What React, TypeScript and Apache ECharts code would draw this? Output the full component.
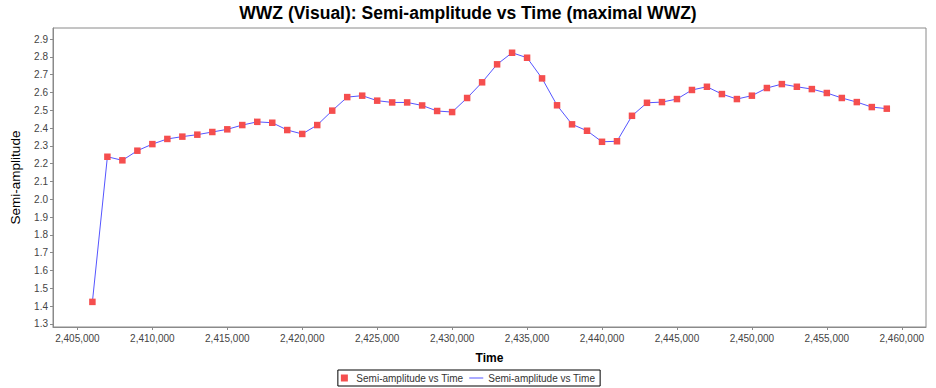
import React, { useEffect, useRef } from "react";
import * as echarts from "echarts";

const times: number[] = [
  2406000, 2407000, 2408000, 2409000, 2410000, 2411000, 2412000, 2413000, 2414000, 2415000,
  2416000, 2417000, 2418000, 2419000, 2420000, 2421000, 2422000, 2423000, 2424000, 2425000,
  2426000, 2427000, 2428000, 2429000, 2430000, 2431000, 2432000, 2433000, 2434000, 2435000,
  2436000, 2437000, 2438000, 2439000, 2440000, 2441000, 2442000, 2443000, 2444000, 2445000,
  2446000, 2447000, 2448000, 2449000, 2450000, 2451000, 2452000, 2453000, 2454000, 2455000,
  2456000, 2457000, 2458000, 2459000,
];

const semiAmplitude: number[] = [
  1.424, 2.239, 2.219, 2.273, 2.31, 2.339, 2.352, 2.363, 2.378, 2.393,
  2.417, 2.435, 2.43, 2.389, 2.367, 2.417, 2.498, 2.574, 2.582, 2.554,
  2.544, 2.544, 2.527, 2.496, 2.49, 2.569, 2.657, 2.758, 2.823, 2.795,
  2.679, 2.528, 2.421, 2.385, 2.323, 2.326, 2.469, 2.542, 2.546, 2.563,
  2.614, 2.632, 2.591, 2.563, 2.582, 2.625, 2.647, 2.632, 2.619, 2.597,
  2.569, 2.546, 2.518, 2.509,
];

const xTicks: number[] = [
  2405000, 2410000, 2415000, 2420000, 2425000, 2430000, 2435000, 2440000, 2445000, 2450000,
  2455000, 2460000,
];

const yTicks: number[] = [
  1.3, 1.4, 1.5, 1.6, 1.7, 1.8, 1.9, 2.0, 2.1, 2.2, 2.3, 2.4, 2.5, 2.6, 2.7, 2.8, 2.9,
];

const seriesLabel = "Semi-amplitude vs Time";
const titleText = "WWZ (Visual): Semi-amplitude vs Time (maximal WWZ)";

export default function App() {
  const ref = useRef<HTMLDivElement>(null);

  useEffect(() => {
    document.body.style.margin = "0";
    if (!ref.current) return;
    const chart = echarts.init(ref.current, undefined, { renderer: "svg" });
    const pairs = times.map((t, i) => [t, semiAmplitude[i]]);
    const font = "'Liberation Sans', Arial, sans-serif";
    chart.setOption({
      animation: false,
      backgroundColor: "#ffffff",
      textStyle: { fontFamily: font },
      title: {
        text: titleText,
        left: "center",
        top: -1,
        textStyle: { fontFamily: font, fontSize: 17.5, fontWeight: "bold", color: "#000" },
      },
      grid: {
        left: 49,
        right: 10,
        top: 28,
        bottom: 61,
        show: true,
        borderColor: "#8a8a8a",
        borderWidth: 1,
        backgroundColor: "#ffffff",
      },
      legend: {
        bottom: 2,
        left: "center",
        orient: "horizontal",
        borderColor: "#000",
        borderWidth: 1,
        padding: [3, 5, 3, 3],
        itemGap: 6,
        itemWidth: 14,
        itemHeight: 7,
        formatter: () => seriesLabel,
        textStyle: { fontFamily: font, fontSize: 10, color: "#333" },
        data: [
          { name: "points", icon: "path://M0,0H7V7H0Z" },
          { name: "line", icon: "path://M0,0H14V1H0Z" },
        ],
      },
      xAxis: {
        type: "value",
        min: 2403371,
        max: 2461616,
        name: "Time",
        nameLocation: "middle",
        nameGap: 25,
        nameTextStyle: { fontFamily: font, fontSize: 12, fontWeight: "bold", color: "#000" },
        splitLine: { show: false },
        axisLine: { show: true, lineStyle: { color: "#8a8a8a" } },
        axisTick: { show: true, length: 3, customValues: xTicks, lineStyle: { color: "#8a8a8a" } },
        axisLabel: {
          customValues: xTicks,
          margin: 6,
          fontFamily: font,
          fontSize: 10,
          color: "#444",
          formatter: (v: number) => v.toLocaleString("en-US"),
        },
      },
      yAxis: {
        type: "value",
        min: 1.283,
        max: 2.962,
        name: "Semi-amplitude",
        nameLocation: "middle",
        nameGap: 31,
        nameTextStyle: { fontFamily: font, fontSize: 13.5, color: "#000" },
        splitLine: { show: false },
        axisLine: { show: true, lineStyle: { color: "#8a8a8a" } },
        axisTick: { show: true, length: 3, customValues: yTicks, lineStyle: { color: "#8a8a8a" } },
        axisLabel: {
          customValues: yTicks,
          margin: 5,
          fontFamily: font,
          fontSize: 10,
          color: "#444",
          formatter: (v: number) => v.toFixed(1),
        },
      },
      series: [
        {
          name: "line",
          type: "line",
          data: pairs,
          showSymbol: false,
          symbol: "none",
          lineStyle: { color: "#5555ff", width: 1 },
          itemStyle: { color: "#5555ff" },
          z: 2,
        },
        {
          name: "points",
          type: "scatter",
          data: pairs,
          symbol: "rect",
          symbolSize: 6.5,
          itemStyle: { color: "#f54e4e", opacity: 1 },
          z: 3,
        },
      ],
    });
    return () => chart.dispose();
  }, []);

  return <div ref={ref} style={{ width: 936, height: 388 }} />;
}
